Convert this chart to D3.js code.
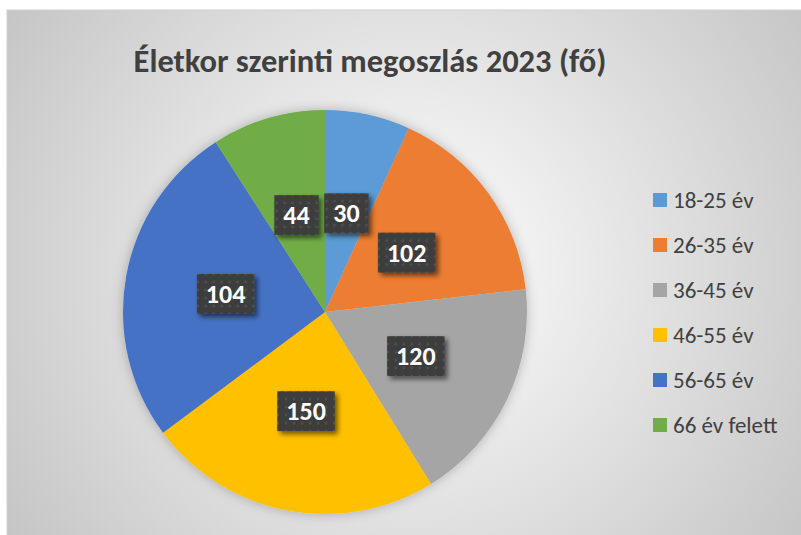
<!DOCTYPE html>
<html>
<head>
<meta charset="utf-8">
<script src="https://cdn.jsdelivr.net/npm/d3@7"></script>
<style>
  body { margin: 0; background: #fff; }
  svg { display: block; font-family: Carlito, Calibri, Lato, sans-serif; }
</style>
</head>
<body>
<svg id="chart" width="801" height="535"></svg>
<script>
var categories = ["18-25 év", "26-35 év", "36-45 év", "46-55 év", "56-65 év", "66 év felett"];
// slice sizes (percent of the circle)
var sliceShares = [6.8, 16.4, 18.0, 23.6, 26.1, 9.1];
// numbers printed in the data labels
var labelValues = [30, 102, 120, 150, 104, 44];
var colors = ["#5B9BD5", "#ED7D31", "#A5A5A5", "#FFC000", "#4472C4", "#70AD47"];
var title = "Életkor szerinti megoszlás 2023 (fő)";

var svg = d3.select("#chart");
var defs = svg.append("defs");

// chart area background: radial grey gradient
var grad = defs.append("radialGradient")
    .attr("id", "bg")
    .attr("gradientUnits", "userSpaceOnUse")
    .attr("cx", 410).attr("cy", 270).attr("r", 490);
grad.append("stop").attr("offset", "0%").attr("stop-color", "#ffffff");
grad.append("stop").attr("offset", "100%").attr("stop-color", "#c4c4c4");

// dotted dark fill for the data labels
var pat = defs.append("pattern")
    .attr("id", "dots")
    .attr("patternUnits", "userSpaceOnUse")
    .attr("width", 8).attr("height", 8);
pat.append("rect").attr("width", 8).attr("height", 8).attr("fill", "#3d3d3d");
pat.append("circle").attr("cx", 4).attr("cy", 4).attr("r", 1.4).attr("fill", "#505050");

var shadow = defs.append("filter").attr("id", "lblShadow")
    .attr("x", "-30%").attr("y", "-30%").attr("width", "160%").attr("height", "170%");
shadow.append("feDropShadow")
    .attr("dx", 3).attr("dy", 3).attr("stdDeviation", 2.5)
    .attr("flood-color", "#000").attr("flood-opacity", 0.55);

var pieShadow = defs.append("filter").attr("id", "pieShadow")
    .attr("x", "-20%").attr("y", "-20%").attr("width", "140%").attr("height", "140%");
pieShadow.append("feDropShadow")
    .attr("dx", 0).attr("dy", 0).attr("stdDeviation", 6)
    .attr("flood-color", "#000").attr("flood-opacity", 0.25);

svg.append("rect")
    .attr("x", 7).attr("y", 10)
    .attr("width", 801).attr("height", 535)
    .attr("fill", "url(#bg)")
    .attr("stroke", "#d0d0d0");

svg.append("text")
    .attr("x", 370).attr("y", 72)
    .attr("text-anchor", "middle")
    .style("font-size", "32.5px")
    .style("font-weight", 700)
    .style("fill", "#404040")
    .text(title);

var cx = 325, cy = 312, R = 202;

var pie = d3.pie().sort(null).value(d => d);
var arcs = pie(sliceShares);
var arc = d3.arc().innerRadius(0).outerRadius(R);

var g = svg.append("g").attr("transform", `translate(${cx},${cy})`);

g.append("g")
    .attr("filter", "url(#pieShadow)")
    .selectAll("path")
    .data(arcs)
    .join("path")
    .attr("d", arc)
    .attr("fill", (d, i) => colors[i]);

var lbl = g.selectAll("g.lbl")
    .data(arcs)
    .join("g")
    .attr("class", "lbl")
    .attr("transform", d => `translate(${arc.centroid(d)})`);

lbl.each(function (d, i) {
    var sel = d3.select(this);
    var t = sel.append("text")
        .attr("text-anchor", "middle")
        .attr("dy", "0.35em")
        .style("font-size", "26px")
        .style("font-weight", 700)
        .style("fill", "#fff")
        .text(labelValues[i]);
    var w = t.node().getComputedTextLength() + 18;
    var h = 40;
    sel.insert("rect", "text")
        .attr("x", -w / 2).attr("y", -h / 2)
        .attr("width", w).attr("height", h)
        .attr("fill", "url(#dots)")
        .attr("filter", "url(#lblShadow)");
});

var legend = svg.append("g").attr("transform", "translate(653,200)");
var item = legend.selectAll("g")
    .data(categories)
    .join("g")
    .attr("transform", (d, i) => `translate(0,${i * 45})`);
item.append("rect")
    .attr("x", 0).attr("y", -7)
    .attr("width", 14).attr("height", 14)
    .attr("fill", (d, i) => colors[i]);
item.append("text")
    .attr("x", 20).attr("y", 0)
    .attr("dy", "0.35em")
    .style("font-size", "23px")
    .style("fill", "#404040")
    .text(d => d);
</script>
</body>
</html>
